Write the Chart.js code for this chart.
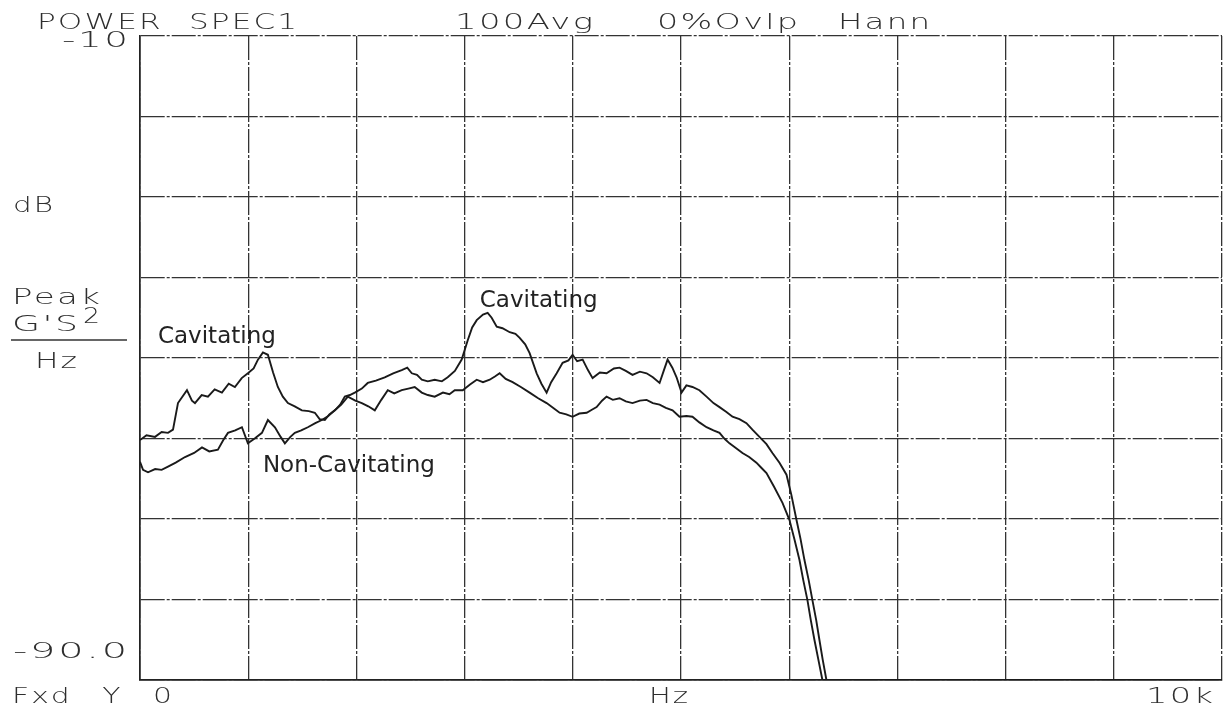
<!DOCTYPE html>
<html>
<head>
<meta charset="utf-8">
<script src="https://cdn.jsdelivr.net/npm/chart.js@4.4.1/dist/chart.umd.min.js"></script>
<style>
  html, body { margin: 0; padding: 0; background: #fff; }
  #wrap { width: 1223px; height: 710px; }
</style>
</head>
<body>
<div id="wrap"><canvas id="spec" width="1223" height="710"></canvas></div>
<script>
// frequency (Hz) and level (dB)
const cavFreq = [0, 60, 139, 200, 259, 305, 351, 434, 480, 508, 570, 628, 690, 757, 820, 877, 940, 997, 1050, 1090,
  1136, 1182, 1230, 1274, 1320, 1367, 1430, 1496, 1560, 1616, 1660, 1708, 1750, 1801, 1850, 1893, 1940, 1985, 2050, 2105,
  2180, 2262, 2340, 2419, 2470, 2512, 2560, 2604, 2660, 2724, 2790, 2844, 2910, 2973, 3029, 3070, 3112, 3170, 3213, 3250,
  3297, 3350, 3417, 3470, 3509, 3560, 3601, 3666, 3710, 3758, 3800, 3851, 3906, 3960, 3998, 4040, 4091, 4140, 4183, 4250,
  4312, 4380, 4432, 4490, 4552, 4620, 4682, 4740, 4802, 4840, 4876, 4920, 4959, 5005, 5050, 5106, 5170, 5236, 5300, 5356,
  5420, 5476, 5540, 5605, 5660, 5725, 5790, 5845, 5910, 5975, 6020, 6067, 6105, 6141, 6180, 6215, 6250, 6279, 6310, 6344, 10000];
const cavDb = [-60.2, -59.6, -59.8, -59.2, -59.3, -58.9, -55.6, -54.0, -55.3, -55.6, -54.6, -54.8, -53.9, -54.3, -53.2, -53.6, -52.5, -51.9, -51.3, -50.2,
  -49.3, -49.6, -51.8, -53.6, -54.8, -55.6, -56.0, -56.5, -56.6, -56.8, -57.6, -57.7, -57.0, -56.5, -55.8, -54.8, -54.6, -54.3, -53.8, -53.1,
  -52.8, -52.4, -51.9, -51.5, -51.2, -51.9, -52.1, -52.7, -52.9, -52.7, -52.9, -52.4, -51.6, -50.2, -47.8, -46.2, -45.3, -44.6, -44.4, -45.0,
  -46.1, -46.3, -46.8, -47.0, -47.5, -48.3, -49.4, -51.9, -53.2, -54.3, -53.0, -51.9, -50.6, -50.3, -49.6, -50.4, -50.2, -51.5, -52.5, -51.8,
  -51.9, -51.3, -51.2, -51.6, -52.1, -51.7, -51.9, -52.4, -53.1, -51.6, -50.2, -51.2, -52.4, -54.3, -53.4, -53.6, -54.0, -54.8, -55.6, -56.1,
  -56.7, -57.3, -57.6, -58.1, -58.9, -59.8, -60.7, -61.8, -63.0, -64.5, -67.0, -70.1, -72.5, -75.1, -77.6, -80.1, -82.6, -85.0, -87.5, -90.0, -90.0];

const nonFreq = [0, 28, 74, 140, 200, 259, 330, 416, 500, 573, 640, 720, 770, 813, 880, 942, 997, 1060, 1127, 1182,
  1247, 1300, 1339, 1390, 1431, 1490, 1551, 1620, 1681, 1740, 1801, 1860, 1921, 1990, 2050, 2110, 2170, 2230, 2290, 2350,
  2419, 2480, 2539, 2604, 2660, 2724, 2800, 2860, 2909, 2983, 3050, 3112, 3170, 3232, 3280, 3324, 3380, 3444, 3520, 3601,
  3680, 3758, 3820, 3878, 3940, 3998, 4060, 4128, 4180, 4220, 4270, 4312, 4370, 4432, 4490, 4552, 4620, 4682, 4740, 4802,
  4860, 4922, 4986, 5050, 5106, 5170, 5236, 5300, 5356, 5400, 5448, 5510, 5568, 5630, 5697, 5740, 5790, 5860, 5938, 6002,
  6050, 6095, 6130, 6169, 6200, 6233, 6270, 6307, 10000];
const nonDb = [-62.9, -63.9, -64.2, -63.8, -63.9, -63.5, -63.0, -62.3, -61.8, -61.1, -61.6, -61.4, -60.2, -59.3, -59.0, -58.6, -60.6, -60.0, -59.3, -57.7,
  -58.6, -59.8, -60.6, -59.8, -59.3, -59.0, -58.6, -58.1, -57.7, -57.2, -56.5, -55.8, -54.8, -55.3, -55.6, -56.0, -56.5, -55.2, -54.0, -54.4,
  -54.0, -53.8, -53.6, -54.3, -54.6, -54.8, -54.3, -54.5, -54.0, -54.0, -53.3, -52.7, -53.0, -52.7, -52.3, -51.9, -52.6, -53.0, -53.6, -54.3,
  -55.0, -55.6, -56.2, -56.8, -57.0, -57.3, -56.9, -56.8, -56.4, -56.1, -55.3, -54.8, -55.2, -55.0, -55.4, -55.6, -55.3, -55.2, -55.6, -55.8,
  -56.2, -56.5, -57.3, -57.2, -57.3, -58.0, -58.6, -59.0, -59.3, -60.0, -60.6, -61.2, -61.8, -62.3, -63.0, -63.6, -64.3, -66.0, -68.0, -70.1,
  -72.6, -75.1, -77.6, -80.1, -82.6, -85.0, -87.5, -90.0, -90.0];

const xRange = [0, 10000];
const yRange = [-90, -10];
const headerTexts = ['POWER SPEC1', '100Avg', '0%Ovlp', 'Hann'];
const yTickLabels = ['-10', '-90.0'];
const xTickLabels = ['Fxd Y 0', 'Hz', '10k'];
const yUnitLabels = ['dB', 'Peak', "G'S", '2', 'Hz'];
const curveNames = ['Cavitating', 'Cavitating', 'Non-Cavitating'];
// anchor of each curve label in data units [Hz, dB]
const curveLabelAt = [[166, -48.1], [3140, -43.7], [1136, -64.2]];

const toPoints = (xs, ys) => xs.map((x, i) => ({ x: x, y: ys[i] }));

const PLOT_FONT = '300 22px "DejaVu Sans"';
const PLOT_SPACING = 1.5;

// plotter style text: wide glyphs, stretched to the width seen on the print
function plotText(ctx, str, x, y, width, align, wordGap) {
  ctx.font = PLOT_FONT;
  ctx.letterSpacing = PLOT_SPACING + 'px';
  ctx.wordSpacing = (wordGap || 0) + 'px';
  const natural = ctx.measureText(str).width - PLOT_SPACING;
  const sx = width / natural;
  const left = align === 'right' ? x - width : x;
  ctx.save();
  ctx.translate(left, y);
  ctx.scale(sx, 1);
  ctx.textAlign = 'left';
  ctx.fillText(str, 0, 0);
  ctx.restore();
  ctx.letterSpacing = '0px';
  ctx.wordSpacing = '0px';
}

const analyzerText = {
  id: 'analyzerText',
  beforeDraw(chart) {
    const ctx = chart.ctx;
    ctx.save();
    ctx.fillStyle = '#fff';
    ctx.fillRect(0, 0, chart.width, chart.height);
    ctx.restore();
  },
  afterDraw(chart) {
    const ctx = chart.ctx;
    const xs = chart.scales.x, ys = chart.scales.y;
    ctx.save();
    ctx.fillStyle = '#2e2e2e';
    ctx.textBaseline = 'alphabetic';

    // header
    plotText(ctx, headerTexts[0], 37, 29, 260, 'left', 10);
    plotText(ctx, headerTexts[1], 455, 29, 138);
    plotText(ctx, headerTexts[2], 657, 29, 141);
    plotText(ctx, headerTexts[3], 838, 29, 92);

    // y axis end values
    plotText(ctx, yTickLabels[0], 128, 47, 66, 'right');
    plotText(ctx, yTickLabels[1], 127, 658, 114, 'right');

    // y unit block
    plotText(ctx, yUnitLabels[0], 13, 212, 40);
    plotText(ctx, yUnitLabels[1], 12, 304, 88);
    plotText(ctx, yUnitLabels[2], 12, 331, 66);
    plotText(ctx, yUnitLabels[3], 83, 323, 17);
    plotText(ctx, yUnitLabels[4], 35, 368, 42);
    ctx.strokeStyle = '#333';
    ctx.lineWidth = 1.6;
    ctx.beginPath();
    ctx.moveTo(11, 340);
    ctx.lineTo(127, 340);
    ctx.stroke();

    // x axis labels
    plotText(ctx, xTickLabels[0], 12, 703, 160, 'left', 14);
    plotText(ctx, xTickLabels[1], 649, 703, 39);
    plotText(ctx, xTickLabels[2], 1213, 703, 67, 'right');

    // curve labels
    ctx.fillStyle = '#222';
    ctx.font = '23px "DejaVu Sans"';
    ctx.textAlign = 'left';
    curveNames.forEach((name, i) => {
      const [hz, db] = curveLabelAt[i];
      ctx.fillText(name, xs.getPixelForValue(hz), ys.getPixelForValue(db));
    });
    ctx.restore();
  }
};

const gridDash = [24, 2, 3, 2];

new Chart(document.getElementById('spec').getContext('2d'), {
  type: 'line',
  data: {
    datasets: [
      {
        label: 'Cavitating',
        data: toPoints(cavFreq, cavDb),
        borderColor: '#1a1a1a',
        borderWidth: 1.9,
        pointRadius: 0,
        tension: 0
      },
      {
        label: 'Non-Cavitating',
        data: toPoints(nonFreq, nonDb),
        borderColor: '#1a1a1a',
        borderWidth: 1.9,
        pointRadius: 0,
        tension: 0
      }
    ]
  },
  options: {
    responsive: false,
    animation: false,
    devicePixelRatio: 1,
    layout: { padding: { left: 140, top: 36, right: 1, bottom: 30 } },
    plugins: { legend: { display: false }, tooltip: { enabled: false } },
    scales: {
      x: {
        type: 'linear',
        min: xRange[0],
        max: xRange[1],
        ticks: { display: false, stepSize: 1000 },
        grid: { color: '#333', lineWidth: 1.3, drawTicks: false },
        border: { display: true, color: '#222', width: 1.7, dash: gridDash }
      },
      y: {
        min: yRange[0],
        max: yRange[1],
        ticks: { display: false, stepSize: 10 },
        grid: { color: '#333', lineWidth: 1.3, drawTicks: false },
        border: { display: true, color: '#222', width: 1.7, dash: gridDash }
      }
    }
  },
  plugins: [analyzerText]
});
</script>
</body>
</html>
